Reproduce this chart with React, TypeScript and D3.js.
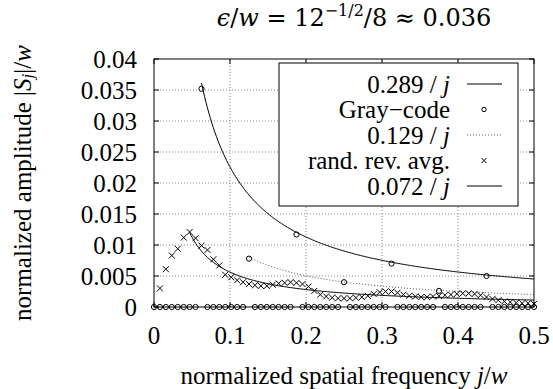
import React from "react";
import * as d3 from "d3";

// spatial frequency index j (w = 128)
const W_TOTAL = 128;
const jIndex = d3.range(0, 65);

// Gray-code amplitude |S_j|/w for j = 0..64
const grayAmp = [
  0, 0, 0, 0, 0, 0, 0, 0, 0.0352,
  0, 0, 0, 0, 0, 0, 0, 0.0078,
  0, 0, 0, 0, 0, 0, 0, 0.0117,
  0, 0, 0, 0, 0, 0, 0, 0.0040,
  0, 0, 0, 0, 0, 0, 0, 0.0070,
  0, 0, 0, 0, 0, 0, 0, 0.0026,
  0, 0, 0, 0, 0, 0, 0, 0.0050,
  0, 0, 0, 0, 0, 0, 0, 0,
];

// random reversal average for j = 1..64
const randJ = d3.range(1, 65);
const randAmp = [
  0.0030, 0.0061, 0.0083, 0.0094, 0.0112, 0.0121, 0.0111, 0.0099, 0.0092, 0.0077,
  0.0067, 0.0052, 0.0048, 0.0043, 0.0040, 0.0037, 0.0035, 0.0034, 0.0034, 0.0036,
  0.0038, 0.0039, 0.0040, 0.0039, 0.0037, 0.0033, 0.0026, 0.0020, 0.0017, 0.0015,
  0.0014, 0.0014, 0.0014, 0.0015, 0.0016, 0.0018, 0.0021, 0.0024, 0.0025, 0.0025,
  0.0023, 0.0020, 0.0018, 0.0017, 0.0016, 0.0016, 0.0017, 0.0018, 0.0019, 0.0020,
  0.0021, 0.0022, 0.0022, 0.0021, 0.0019, 0.0016, 0.0013, 0.0011, 0.0009, 0.0008,
  0.0007, 0.0006, 0.0006, 0.0005,
];

// reference curves c / j, from j = start to 64
const curveCoef = [0.289, 0.129, 0.072];
const curveStart = [8, 16, 6];

const xTicks = [0, 0.1, 0.2, 0.3, 0.4, 0.5];
const xTickLabels = ["0", "0.1", "0.2", "0.3", "0.4", "0.5"];
const yTicks = [0, 0.005, 0.01, 0.015, 0.02, 0.025, 0.03, 0.035, 0.04];
const yTickLabels = ["0", "0.005", "0.01", "0.015", "0.02", "0.025", "0.03", "0.035", "0.04"];

const legendLabels = ["0.289 / ", "Gray\u2212code", "0.129 / ", "rand. rev. avg.", "0.072 / "];

const FONT = "Liberation Serif";
const MATH_FONT = "DejaVu Serif";

export default function App() {
  const W = 553, H = 389;
  const x = d3.scaleLinear().domain([0, 0.5]).range([154, 534]);
  const y = d3.scaleLinear().domain([0, 0.04]).range([307, 59]);
  const fs = 25;

  const curvePath = (c: number, s: number) => {
    const pts = d3.range(s, 64.001, 0.25).map((j) => [j / W_TOTAL, c / j] as [number, number]);
    return d3.line<[number, number]>().x((d) => x(d[0])).y((d) => y(d[1]))(pts) || "";
  };
  const curveStyles = [
    { stroke: "#000", dash: undefined as string | undefined, width: 1 },
    { stroke: "#555", dash: "1,2", width: 1 },
    { stroke: "#000", dash: undefined as string | undefined, width: 1 },
  ];

  const cross = (cx: number, cy: number, k: string, s = 3) => (
    <path key={k} d={`M${cx - s},${cy - s}L${cx + s},${cy + s}M${cx - s},${cy + s}L${cx + s},${cy - s}`} stroke="#000" strokeWidth={1} fill="none" />
  );

  const legX0 = 279, legX1 = 518, legY0 = 63, legY1 = 206;
  const rowY = [84, 109.5, 135, 160.5, 186];

  return (
    <svg width={W} height={H} style={{ position: "absolute", left: 0, top: 0, background: "#fff" }}>
      <rect x={0} y={0} width={W} height={H} fill="#fff" />
      {/* grid */}
      {xTicks.slice(1, -1).map((t) => (
        <line key={"gx" + t} x1={x(t)} x2={x(t)} y1={y(0)} y2={y(0.04)} stroke="#888" strokeDasharray="1,2" strokeWidth={1} />
      ))}
      {yTicks.slice(1, -1).map((t) => (
        <line key={"gy" + t} x1={x(0)} x2={x(0.5)} y1={y(t)} y2={y(t)} stroke="#888" strokeDasharray="1,2" strokeWidth={1} />
      ))}
      {/* ticks */}
      {xTicks.map((t) => (
        <g key={"tx" + t}>
          <line x1={x(t)} x2={x(t)} y1={y(0)} y2={y(0) - 5} stroke="#000" />
          <line x1={x(t)} x2={x(t)} y1={y(0.04)} y2={y(0.04) + 5} stroke="#000" />
        </g>
      ))}
      {yTicks.map((t) => (
        <g key={"ty" + t}>
          <line x1={x(0)} x2={x(0) + 5} y1={y(t)} y2={y(t)} stroke="#000" />
          <line x1={x(0.5)} x2={x(0.5) - 5} y1={y(t)} y2={y(t)} stroke="#000" />
        </g>
      ))}
      {/* curves */}
      {curveCoef.map((c, i) => (
        <path key={"c" + i} d={curvePath(c, curveStart[i])} fill="none" stroke={curveStyles[i].stroke} strokeWidth={curveStyles[i].width} strokeDasharray={curveStyles[i].dash} />
      ))}
      {/* gray-code circles */}
      {jIndex.map((j, i) => (
        <circle key={"g" + j} cx={x(j / W_TOTAL)} cy={y(grayAmp[i])} r={2.6} fill="none" stroke="#000" strokeWidth={1} />
      ))}
      {/* random reversal crosses */}
      {randJ.map((j, i) => cross(x(j / W_TOTAL), y(randAmp[i]), "r" + j))}
      {/* frame */}
      <rect x={x(0)} y={y(0.04)} width={x(0.5) - x(0)} height={y(0) - y(0.04)} fill="none" stroke="#000" strokeWidth={1} />
      {/* tick labels */}
      {xTicks.map((t, i) => (
        <text key={"xl" + t} fontFamily={FONT} x={x(t)} y={335} fontSize={fs} textAnchor="middle" dominantBaseline="central">{xTickLabels[i]}</text>
      ))}
      {yTicks.map((t, i) => (
        <text key={"yl" + t} fontFamily={FONT} x={137} y={y(t)} fontSize={fs} textAnchor="end" dominantBaseline="central">{yTickLabels[i]}</text>
      ))}
      {/* axis titles */}
      <text fontFamily={FONT} x={344} y={375} fontSize={fs} textAnchor="middle" dominantBaseline="central">
        normalized spatial frequency <tspan fontStyle="italic">j</tspan>/<tspan fontStyle="italic">w</tspan>
      </text>
      <text fontFamily={FONT} transform="translate(22,183) rotate(-90)" fontSize={fs} textAnchor="middle" dominantBaseline="central">
        normalized amplitude |<tspan fontStyle="italic">S</tspan><tspan fontStyle="italic" fontSize={17} dy={5}>j</tspan><tspan dy={-5}>|/</tspan><tspan fontStyle="italic">w</tspan>
      </text>
      {/* title */}
      <text fontFamily={MATH_FONT} x={354} y={26} fontSize={24} textAnchor="middle">
        <tspan fontStyle="italic">ϵ</tspan>/<tspan fontStyle="italic">w</tspan> = 12<tspan fontSize={16} dy={-10}>−1/2</tspan><tspan dy={10}>/8 ≈ 0.036</tspan>
      </text>
      {/* legend */}
      <rect x={legX0} y={legY0} width={legX1 - legX0} height={legY1 - legY0} fill="#fff" stroke="#000" strokeWidth={1} />
      {legendLabels.map((l, i) => (
        <text key={"ll" + i} fontFamily={FONT} x={450} y={rowY[i]} fontSize={fs} textAnchor="end" dominantBaseline="central">
          {l}
          {i % 2 === 0 ? <tspan fontStyle="italic">j</tspan> : null}
        </text>
      ))}
      {[0, 2, 4].map((r, k) => (
        <line key={"ls" + r} x1={467} x2={502} y1={rowY[r]} y2={rowY[r]} stroke={curveStyles[k].stroke} strokeDasharray={curveStyles[k].dash} strokeWidth={1} />
      ))}
      <circle cx={484} cy={rowY[1]} r={2.2} fill="none" stroke="#000" />
      {cross(484, rowY[3], "lc", 2.5)}
    </svg>
  );
}
